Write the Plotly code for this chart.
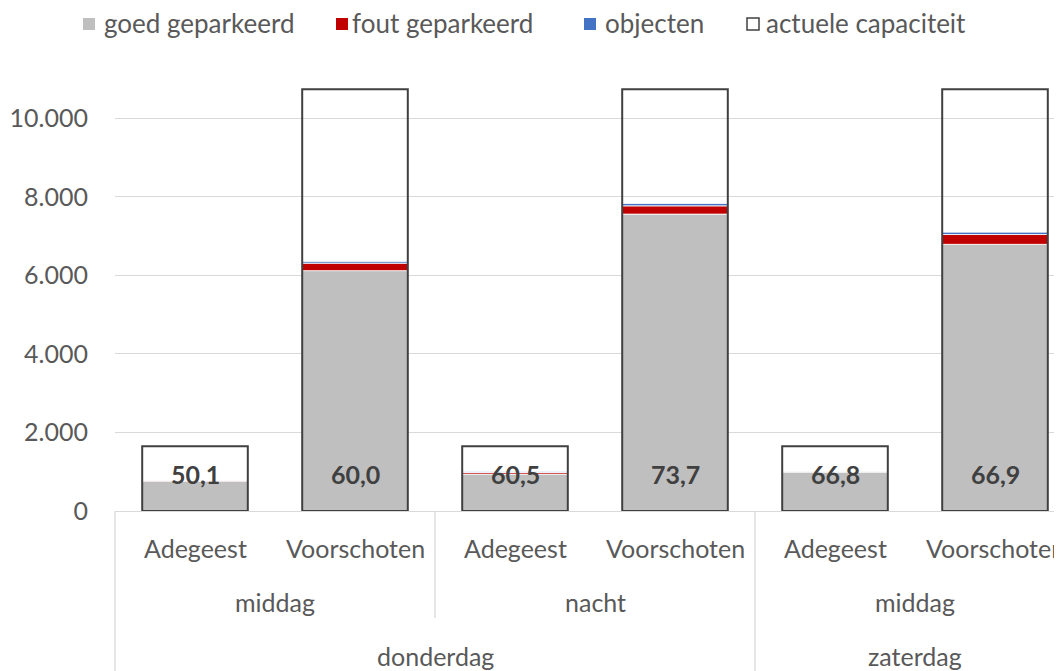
import plotly.graph_objects as go

# ---- data ----
locaties = ["Adegeest", "Voorschoten", "Adegeest", "Voorschoten", "Adegeest", "Voorschoten"]
dagdelen = ["middag", "nacht", "middag"]
dagen = ["donderdag", "zaterdag"]
goed_geparkeerd = [760, 6120, 940, 7560, 990, 6790]
fout_geparkeerd = [10, 190, 40, 210, 15, 250]
objecten = [5, 40, 20, 60, 10, 60]
actuele_capaciteit = [1650, 10740, 1650, 10740, 1650, 10740]
bezetting_labels = ["50,1", "60,0", "60,5", "73,7", "66,8", "66,9"]
reeksen = ["goed geparkeerd", "fout geparkeerd", "objecten", "actuele capaciteit"]
kleuren = ["#bfbfbf", "#c00000", "#4472c4", "white"]

FONT = "Lato"
TXT = "#595959"
GRID = "#d9d9d9"
x = list(range(len(locaties)))
W = 0.66

# page offset (browser body margin) and layout geometry in figure pixels
OFF = 8
ML, MT, PH = 107, 71, 432
FW, FH = 1062, 671
MB = FH - MT - PH
PW = FW - ML
CAT_PX = 160
xmin = -0.5
xmax = xmin + PW / CAT_PX

def pxx(win_x):
    return (win_x - OFF - ML) / PW

def pxy(win_y):
    return (MT + PH - (win_y - OFF)) / PH

base_fout = goed_geparkeerd
base_obj = [g + f for g, f in zip(goed_geparkeerd, fout_geparkeerd)]

fig = go.Figure()
fig.add_bar(x=x, y=goed_geparkeerd, base=0, width=W, name=reeksen[0], showlegend=False,
            marker=dict(color=kleuren[0], line=dict(color="white", width=0.8)))
fig.add_bar(x=x, y=fout_geparkeerd, base=base_fout, width=W, name=reeksen[1], showlegend=False,
            marker=dict(color=kleuren[1], line=dict(color="white", width=0.8)))
fig.add_bar(x=x, y=objecten, base=base_obj, width=W, name=reeksen[2], showlegend=False,
            marker=dict(color=kleuren[2], line=dict(color="white", width=0.8)))
fig.add_bar(x=x, y=actuele_capaciteit, base=0, width=W, name=reeksen[3], showlegend=False,
            marker=dict(color="rgba(255,255,255,0)", line=dict(color="#404040", width=2)))

# data labels (bezettingsgraad)
for xi, lab in zip(x, bezetting_labels):
    fig.add_annotation(x=xi, y=950, xref="x", yref="y", text="<b>%s</b>" % lab,
                       showarrow=False, font=dict(family=FONT, size=25, color="#404040"))

# category levels
for xi, loc in zip(x, locaties):
    fig.add_annotation(x=xi, y=0, xref="x", yref="paper", yanchor="middle", yshift=-37,
                       text=loc, showarrow=False, font=dict(family=FONT, size=25, color=TXT))
for c, lab in zip([0.5, 2.5, 4.5], dagdelen):
    fig.add_annotation(x=c, y=0, xref="x", yref="paper", yanchor="middle", yshift=-91,
                       text=lab, showarrow=False, font=dict(family=FONT, size=25, color=TXT))
for c, lab in zip([1.5, 4.5], dagen):
    fig.add_annotation(x=c, y=0, xref="x", yref="paper", yanchor="middle", yshift=-145,
                       text=lab, showarrow=False, font=dict(family=FONT, size=25, color=TXT))

# divider lines between category groups
for b, depth in [(-0.5, 170), (1.5, 107), (3.5, 170)]:
    xp = (b - xmin) / (xmax - xmin)
    fig.add_shape(type="line", xref="paper", yref="paper", x0=xp, x1=xp,
                  y0=0, y1=-depth / PH, line=dict(color=GRID, width=1.3))

# manual legend (window pixel layout)
sq_left = [83, 336, 584, 747]
txt_left = [102, 350, 603, 764]
LEG_Y = 24
SQ = 12
for i, name in enumerate(reeksen):
    line = dict(color="#404040", width=1.5) if i == 3 else dict(width=0)
    fig.add_shape(type="rect", xref="paper", yref="paper",
                  x0=pxx(sq_left[i]), x1=pxx(sq_left[i] + SQ),
                  y0=pxy(LEG_Y - SQ / 2), y1=pxy(LEG_Y + SQ / 2),
                  fillcolor=kleuren[i], line=line)
    fig.add_annotation(x=pxx(txt_left[i]), y=pxy(LEG_Y - 1), xref="paper", yref="paper",
                       xanchor="left", yanchor="middle", text=name, showarrow=False,
                       font=dict(family=FONT, size=26, color=TXT))

fig.update_layout(
    width=FW, height=FH,
    margin=dict(l=ML, r=0, t=MT, b=MB, autoexpand=False),
    barmode="overlay",
    paper_bgcolor="white", plot_bgcolor="white",
    separators=",.",
    showlegend=False,
    font=dict(family=FONT, color=TXT),
)
fig.update_xaxes(range=[xmin, xmax], showticklabels=False, showgrid=False, zeroline=False,
                 showline=True, linecolor=GRID, linewidth=1.3, ticks="", automargin=False)
fig.update_yaxes(range=[0, 11000], tickvals=[0, 2000, 4000, 6000, 8000, 10000],
                 tickformat=",.0f", showgrid=True, gridcolor=GRID, gridwidth=1.3,
                 zeroline=False, tickfont=dict(family=FONT, size=25, color=TXT),
                 ticks="", showline=False, automargin=False, ticklabelstandoff=26)

fig.write_html("out.html")
